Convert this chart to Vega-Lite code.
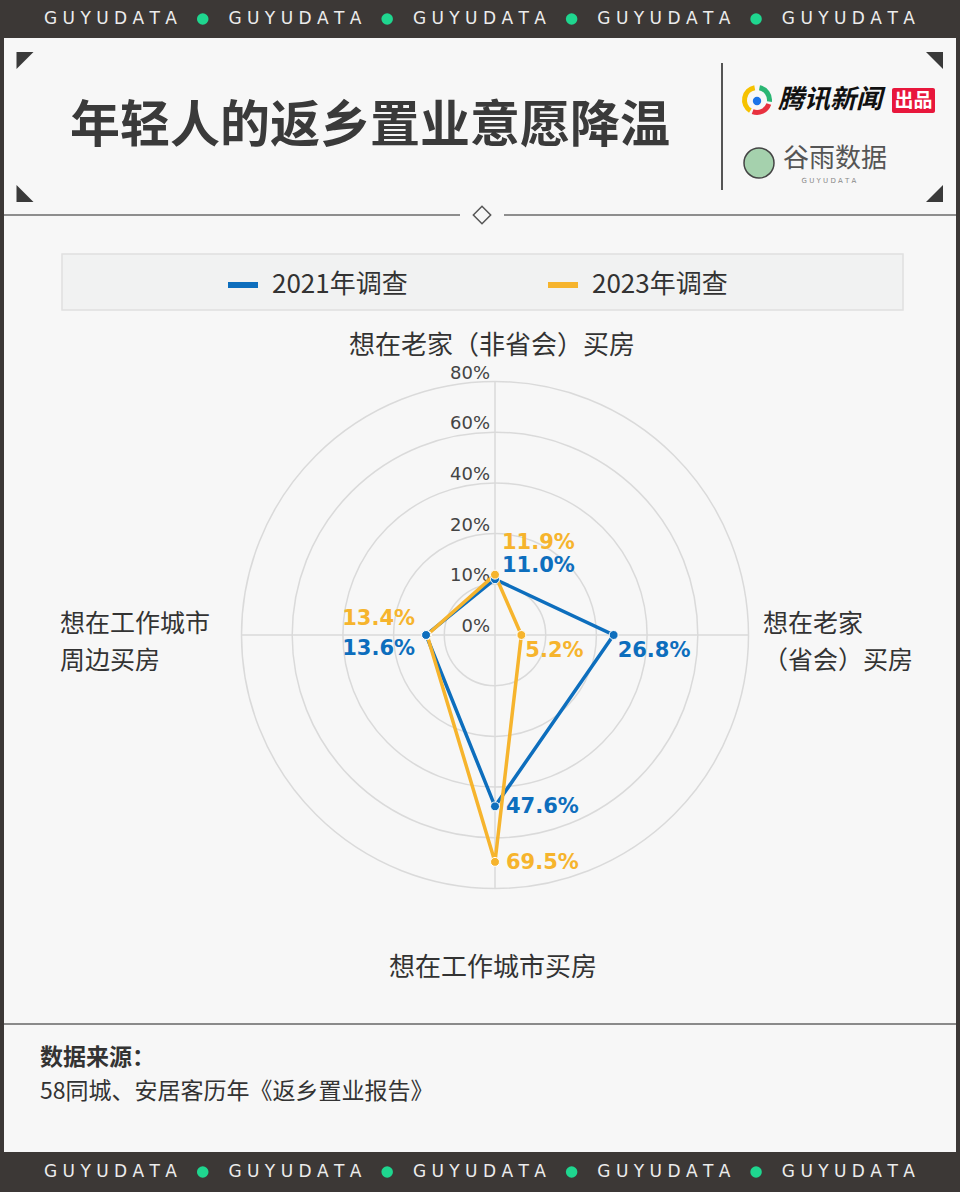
{
"$schema":"https://vega.github.io/schema/vega-lite/v6.json",
"width":960,"height":1192,"autosize":{"type":"none"},"padding":0,
"background":"#3c3836",
"config":{"view":{"stroke":null},"axis":{"disable":true},"text":{"font":"Noto Sans CJK SC"}},
"datasets":{
 "survey":[
  {"survey":"2021年调查","category":"想在老家（非省会）买房","idx":0,"value":0.110},
  {"survey":"2021年调查","category":"想在老家（省会）买房","idx":1,"value":0.268},
  {"survey":"2021年调查","category":"想在工作城市买房","idx":2,"value":0.476},
  {"survey":"2023年调查","category":"想在工作城市周边买房","idx":3,"value":0.134},
  {"survey":"2021年调查","category":"想在工作城市周边买房","idx":3,"value":0.136},
  {"survey":"2023年调查","category":"想在老家（非省会）买房","idx":0,"value":0.119},
  {"survey":"2023年调查","category":"想在老家（省会）买房","idx":1,"value":0.052},
  {"survey":"2023年调查","category":"想在工作城市买房","idx":2,"value":0.695}
 ],
 "rings":[{"ring":0},{"ring":0.1},{"ring":0.2},{"ring":0.4},{"ring":0.6},{"ring":0.8}],
 "banner":[
  {"band":"top","slot":0},{"band":"top","slot":1},{"band":"top","slot":2},{"band":"top","slot":3},{"band":"top","slot":4},
  {"band":"bottom","slot":0},{"band":"bottom","slot":1},{"band":"bottom","slot":2},{"band":"bottom","slot":3},{"band":"bottom","slot":4}
 ]
},
"resolve":{"scale":{"x":"independent","y":"independent"}},
"layer":[
 {"data":{"values":[{}]},
  "layer":[
   {"mark":{"type":"rect","fill":"#f7f7f7"},"encoding":{"x":{"datum":4,"type":"quantitative","scale":{"domain":[0,960],"range":[0,960],"nice":false,"zero":false}},"x2":{"datum":956},"y":{"datum":38,"type":"quantitative","scale":{"domain":[0,1192],"range":[0,1192],"nice":false,"zero":false}},"y2":{"datum":1152}}},
   {"mark":{"type":"rule","stroke":"#6b6b6b","strokeWidth":1.5},"encoding":{"x":{"datum":4,"type":"quantitative"},"x2":{"datum":460},"y":{"datum":215,"type":"quantitative"}}},
   {"mark":{"type":"rule","stroke":"#6b6b6b","strokeWidth":1.5},"encoding":{"x":{"datum":504,"type":"quantitative"},"x2":{"datum":956},"y":{"datum":215,"type":"quantitative"}}},
   {"mark":{"type":"point","shape":"diamond","size":300,"filled":false,"stroke":"#555555","strokeWidth":1.5,"opacity":1},"encoding":{"x":{"datum":482,"type":"quantitative"},"y":{"datum":215,"type":"quantitative"}}},
   {"mark":{"type":"point","shape":"M-1,-1L1,-1L-1,1Z","size":289,"filled":true,"fill":"#3a3a3a","opacity":1,"strokeWidth":0},"encoding":{"x":{"datum":25,"type":"quantitative"},"y":{"datum":60.5,"type":"quantitative"}}},
   {"mark":{"type":"point","shape":"M-1,-1L-1,1L1,1Z","size":289,"filled":true,"fill":"#3a3a3a","opacity":1,"strokeWidth":0},"encoding":{"x":{"datum":25,"type":"quantitative"},"y":{"datum":193.5,"type":"quantitative"}}},
   {"mark":{"type":"point","shape":"M-1,-1L1,-1L1,1Z","size":289,"filled":true,"fill":"#3a3a3a","opacity":1,"strokeWidth":0},"encoding":{"x":{"datum":934.5,"type":"quantitative"},"y":{"datum":60.5,"type":"quantitative"}}},
   {"mark":{"type":"point","shape":"M1,-1L1,1L-1,1Z","size":289,"filled":true,"fill":"#3a3a3a","opacity":1,"strokeWidth":0},"encoding":{"x":{"datum":934.5,"type":"quantitative"},"y":{"datum":193.5,"type":"quantitative"}}},
   {"mark":{"type":"text","align":"left","baseline":"middle","fontSize":50,"fontWeight":"bold","fill":"#3a3a3a"},"encoding":{"x":{"datum":70,"type":"quantitative"},"y":{"datum":127,"type":"quantitative"},"text":{"value":"年轻人的返乡置业意愿降温"}}},
   {"mark":{"type":"rule","stroke":"#555555","strokeWidth":2},"encoding":{"x":{"datum":722,"type":"quantitative"},"y":{"datum":63,"type":"quantitative"},"y2":{"datum":190}}},
   {"mark":{"type":"arc","radius":15,"radius2":10,"theta":3.7,"theta2":6.1,"fill":"#f6c200"},"encoding":{"x":{"datum":757,"type":"quantitative"},"y":{"datum":100,"type":"quantitative"}}},
   {"mark":{"type":"arc","radius":15,"radius2":10,"theta":0.2,"theta2":1.7,"fill":"#2bb673"},"encoding":{"x":{"datum":757,"type":"quantitative"},"y":{"datum":100,"type":"quantitative"}}},
   {"mark":{"type":"arc","radius":15,"radius2":10,"theta":1.9,"theta2":3.5,"fill":"#e8313f"},"encoding":{"x":{"datum":757,"type":"quantitative"},"y":{"datum":100,"type":"quantitative"}}},
   {"mark":{"type":"circle","size":70,"fill":"#1a73e8","opacity":1},"encoding":{"x":{"datum":757,"type":"quantitative"},"y":{"datum":101,"type":"quantitative"}}},
   {"mark":{"type":"text","align":"left","baseline":"middle","fontSize":26,"fontWeight":"bold","fontStyle":"italic","fill":"#111111"},"encoding":{"x":{"datum":778,"type":"quantitative"},"y":{"datum":100,"type":"quantitative"},"text":{"value":"腾讯新闻"}}},
   {"mark":{"type":"rect","fill":"#e8173c","cornerRadius":2},"encoding":{"x":{"datum":892,"type":"quantitative"},"x2":{"datum":935},"y":{"datum":88,"type":"quantitative"},"y2":{"datum":113}}},
   {"mark":{"type":"text","align":"center","baseline":"middle","fontSize":19,"fontWeight":"bold","fill":"#ffffff"},"encoding":{"x":{"datum":913.5,"type":"quantitative"},"y":{"datum":100.5,"type":"quantitative"},"text":{"value":"出品"}}},
   {"mark":{"type":"circle","size":900,"fill":"#a5d1ad","stroke":"#444444","strokeWidth":1.5,"opacity":1},"encoding":{"x":{"datum":759,"type":"quantitative"},"y":{"datum":163,"type":"quantitative"}}},
   {"mark":{"type":"text","align":"left","baseline":"middle","fontSize":26,"fill":"#555555"},"encoding":{"x":{"datum":783,"type":"quantitative"},"y":{"datum":159,"type":"quantitative"},"text":{"value":"谷雨数据"}}},
   {"mark":{"type":"text","align":"center","baseline":"middle","fontSize":7,"font":"DejaVu Sans","fill":"#888888"},"encoding":{"x":{"datum":829,"type":"quantitative"},"y":{"datum":181,"type":"quantitative"},"text":{"value":"G   U   Y   U   D   A   T   A"}}},
   {"mark":{"type":"rect","fill":"#f1f2f2","stroke":"#e0e0e0","strokeWidth":1.5},"encoding":{"x":{"datum":62,"type":"quantitative"},"x2":{"datum":903},"y":{"datum":254,"type":"quantitative"},"y2":{"datum":310}}},
   {"mark":{"type":"rule","stroke":"#8a8a8a","strokeWidth":2},"encoding":{"x":{"datum":4,"type":"quantitative"},"x2":{"datum":956},"y":{"datum":1024,"type":"quantitative"}}},
   {"mark":{"type":"text","align":"left","baseline":"middle","fontSize":23,"fontWeight":"bold","fill":"#333333"},"encoding":{"x":{"datum":40,"type":"quantitative"},"y":{"datum":1058,"type":"quantitative"},"text":{"value":"数据来源："}}},
   {"mark":{"type":"text","align":"left","baseline":"middle","fontSize":23,"fill":"#333333"},"encoding":{"x":{"datum":40,"type":"quantitative"},"y":{"datum":1092,"type":"quantitative"},"text":{"value":"58同城、安居客历年《返乡置业报告》"}}}
  ]},
 {"data":{"name":"banner"},
  "layer":[
   {"mark":{"type":"text","font":"DejaVu Sans","fontSize":17,"fill":"#ececec","align":"center","baseline":"middle"},
    "encoding":{"x":{"field":"slot","type":"quantitative","scale":{"domain":[0,4],"range":[110.5,848.3],"nice":false,"zero":false}},
                "y":{"field":"band","type":"nominal","scale":{"type":"point","domain":["top","bottom"],"range":[19,1172],"padding":0}},
                "text":{"value":"G U Y U D A T A"}}},
   {"transform":[{"filter":"datum.slot < 4"},{"calculate":"datum.slot + 0.5","as":"gap"}],
    "mark":{"type":"circle","size":133,"fill":"#1fd68f","opacity":1},
    "encoding":{"x":{"field":"gap","type":"quantitative","scale":{"domain":[0,4],"range":[110.5,848.3],"nice":false,"zero":false}},
                "y":{"field":"band","type":"nominal","scale":{"type":"point","domain":["top","bottom"],"range":[19,1172],"padding":0}}}}
  ]},
 {"layer":[
   {"data":{"name":"rings"},
    "mark":{"type":"arc","theta":0,"theta2":6.2832,"filled":false,"stroke":"#dadada","strokeWidth":1.5},
    "encoding":{
     "x":{"datum":0,"type":"quantitative","scale":{"type":"linear","domain":[-0.8,-0.6,-0.4,-0.2,-0.1,0,0.1,0.2,0.4,0.6,0.8],"range":[241.5,292.2,342.9,393.6,444.3,495,545.7,596.4,647.1,697.8,748.5],"nice":false,"zero":false}},
     "y":{"datum":0,"type":"quantitative","scale":{"type":"linear","domain":[-0.8,-0.6,-0.4,-0.2,-0.1,0,0.1,0.2,0.4,0.6,0.8],"range":[888.5,837.8,787.1,736.4,685.7,635,584.3,533.6,482.9,432.2,381.5],"nice":false,"zero":false}},
     "radius":{"field":"ring","type":"quantitative","stack":null,"scale":{"type":"linear","domain":[0,0.1,0.2,0.4,0.6,0.8],"range":[0,50.7,101.4,152.1,202.8,253.5],"nice":false,"zero":false}}}},
   {"data":{"values":[{}]},"mark":{"type":"rule","stroke":"#dadada","strokeWidth":1.5},
    "encoding":{"x":{"datum":0,"type":"quantitative"},"y":{"datum":-0.8,"type":"quantitative"},"y2":{"datum":0.8}}},
   {"data":{"values":[{}]},"mark":{"type":"rule","stroke":"#dadada","strokeWidth":1.5},
    "encoding":{"y":{"datum":0,"type":"quantitative"},"x":{"datum":-0.8,"type":"quantitative"},"x2":{"datum":0.8}}},
   {"data":{"name":"rings"},
    "mark":{"type":"text","align":"right","baseline":"middle","dx":-5,"dy":-8,"font":"DejaVu Sans","fontSize":18,"fill":"#444444"},
    "encoding":{"x":{"datum":0,"type":"quantitative"},"y":{"field":"ring","type":"quantitative"},"text":{"field":"ring","type":"quantitative","format":".0%"}}},
   {"data":{"name":"survey"},
    "transform":[
     {"calculate":"datum.idx == 1 ? datum.value : (datum.idx == 3 ? -datum.value : 0)","as":"rx"},
     {"calculate":"datum.idx == 0 ? datum.value : (datum.idx == 2 ? -datum.value : 0)","as":"ry"}
    ],
    "layer":[
     {"mark":{"type":"line","interpolate":"linear-closed","strokeWidth":3.5},
      "encoding":{"x":{"field":"rx","type":"quantitative"},"y":{"field":"ry","type":"quantitative"},"order":{"field":"idx","type":"quantitative"},
       "color":{"field":"survey","type":"nominal","scale":{"domain":["2021年调查","2023年调查"],"range":["#0d6ebd","#f6b42d"]},
        "legend":{"title":null,"orient":"none","legendX":225,"legendY":267,"direction":"horizontal","symbolType":"stroke","symbolSize":900,"symbolStrokeWidth":6,"labelFont":"Noto Sans CJK SC","labelFontSize":26,"labelColor":"#333333","labelOffset":11,"columnPadding":128,"padding":0,"labelLimit":300}}}},
     {"mark":{"type":"circle","size":80,"opacity":1,"stroke":"#ffffff","strokeWidth":1},
      "encoding":{"x":{"field":"rx","type":"quantitative"},"y":{"field":"ry","type":"quantitative"},"color":{"field":"survey","type":"nominal","legend":null}}},
     {"transform":[{"filter":"datum.idx == 0 && datum.survey == '2021年调查'"}],
      "mark":{"type":"text","align":"left","baseline":"middle","dx":7,"dy":-13,"font":"DejaVu Sans","fontWeight":"bold","fontSize":21},
      "encoding":{"x":{"field":"rx","type":"quantitative"},"y":{"field":"ry","type":"quantitative"},"color":{"field":"survey","type":"nominal","legend":null},"text":{"field":"value","type":"quantitative","format":".1%"}}},
     {"transform":[{"filter":"datum.idx == 0 && datum.survey == '2023年调查'"}],
      "mark":{"type":"text","align":"left","baseline":"middle","dx":7,"dy":-32,"font":"DejaVu Sans","fontWeight":"bold","fontSize":21},
      "encoding":{"x":{"field":"rx","type":"quantitative"},"y":{"field":"ry","type":"quantitative"},"color":{"field":"survey","type":"nominal","legend":null},"text":{"field":"value","type":"quantitative","format":".1%"}}},
     {"transform":[{"filter":"datum.idx == 1"}],
      "mark":{"type":"text","align":"left","baseline":"middle","dx":4,"dy":16,"font":"DejaVu Sans","fontWeight":"bold","fontSize":21},
      "encoding":{"x":{"field":"rx","type":"quantitative"},"y":{"field":"ry","type":"quantitative"},"color":{"field":"survey","type":"nominal","legend":null},"text":{"field":"value","type":"quantitative","format":".1%"}}},
     {"transform":[{"filter":"datum.idx == 2"}],
      "mark":{"type":"text","align":"left","baseline":"middle","dx":11,"dy":1,"font":"DejaVu Sans","fontWeight":"bold","fontSize":21},
      "encoding":{"x":{"field":"rx","type":"quantitative"},"y":{"field":"ry","type":"quantitative"},"color":{"field":"survey","type":"nominal","legend":null},"text":{"field":"value","type":"quantitative","format":".1%"}}},
     {"transform":[{"filter":"datum.idx == 3 && datum.survey == '2023年调查'"}],
      "mark":{"type":"text","align":"right","baseline":"middle","dx":-12,"dy":-16,"font":"DejaVu Sans","fontWeight":"bold","fontSize":21},
      "encoding":{"x":{"field":"rx","type":"quantitative"},"y":{"field":"ry","type":"quantitative"},"color":{"field":"survey","type":"nominal","legend":null},"text":{"field":"value","type":"quantitative","format":".1%"}}},
     {"transform":[{"filter":"datum.idx == 3 && datum.survey == '2021年调查'"}],
      "mark":{"type":"text","align":"right","baseline":"middle","dx":-11,"dy":14,"font":"DejaVu Sans","fontWeight":"bold","fontSize":21},
      "encoding":{"x":{"field":"rx","type":"quantitative"},"y":{"field":"ry","type":"quantitative"},"color":{"field":"survey","type":"nominal","legend":null},"text":{"field":"value","type":"quantitative","format":".1%"}}},
     {"transform":[{"filter":"datum.idx == 0 && datum.survey == '2021年调查'"}],
      "mark":{"type":"text","align":"center","baseline":"middle","dx":-3,"dy":-35.5,"fontSize":26,"fill":"#333333"},
      "encoding":{"x":{"datum":0,"type":"quantitative"},"y":{"datum":0.8,"type":"quantitative"},"text":{"field":"category"}}},
     {"transform":[{"filter":"datum.idx == 1 && datum.survey == '2021年调查'"},{"calculate":"slice(datum.category,0,4) + '\\n' + slice(datum.category,4)","as":"lbl"}],
      "mark":{"type":"text","align":"left","baseline":"middle","dx":14.5,"dy":-11.5,"fontSize":25,"fill":"#333333","lineBreak":"\n","lineHeight":37},
      "encoding":{"x":{"datum":0.8,"type":"quantitative"},"y":{"datum":0,"type":"quantitative"},"text":{"field":"lbl"}}},
     {"transform":[{"filter":"datum.idx == 2 && datum.survey == '2021年调查'"}],
      "mark":{"type":"text","align":"center","baseline":"middle","dx":-2,"dy":79.5,"fontSize":26,"fill":"#333333"},
      "encoding":{"x":{"datum":0,"type":"quantitative"},"y":{"datum":-0.8,"type":"quantitative"},"text":{"field":"category"}}},
     {"transform":[{"filter":"datum.idx == 3 && datum.survey == '2021年调查'"},{"calculate":"slice(datum.category,0,6) + '\\n' + slice(datum.category,6)","as":"lbl"}],
      "mark":{"type":"text","align":"left","baseline":"middle","dx":-181.5,"dy":-11.5,"fontSize":25,"fill":"#333333","lineBreak":"\n","lineHeight":37},
      "encoding":{"x":{"datum":-0.8,"type":"quantitative"},"y":{"datum":0,"type":"quantitative"},"text":{"field":"lbl"}}}
    ]}
  ]}
]
}
